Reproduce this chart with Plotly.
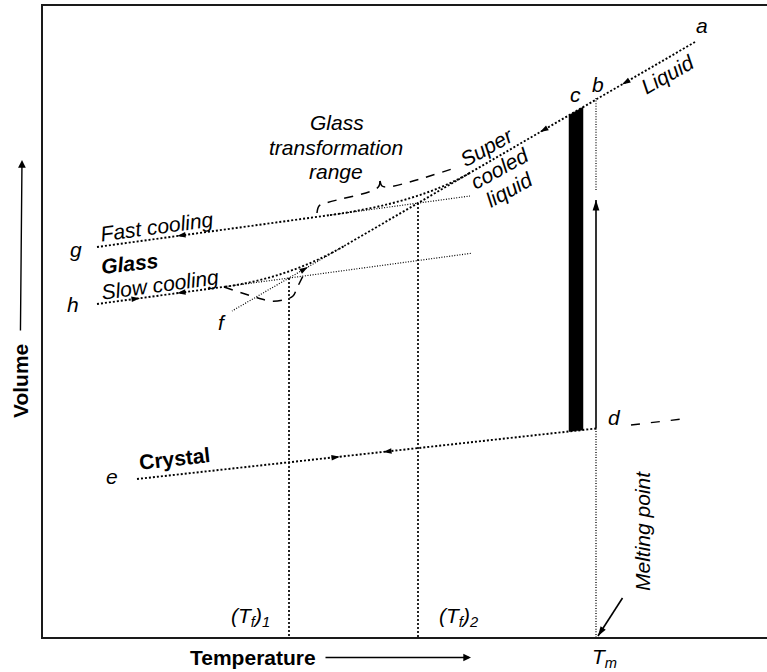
import math
import plotly.graph_objects as go

# ---------------- data (schematic Temperature / Volume units) ----------------
# liquid -> supercooled liquid (a ... f), real part and extrapolation
liquid_T = [695, 345]
liquid_V = [42.0, 245.5]
supercooled_ext_T = [345, 232]
supercooled_ext_V = [245.5, 311.0]
# fast-cooled glass (g) and its extrapolation
fast_glass_T = [97, 330]
fast_glass_V = [247.0, 215.1]
fast_ext_T = [330, 470]
fast_ext_V = [215.1, 196.0]
fast_curve_T = [330, 418, 470]          # start, control, end of transition curve
fast_curve_V = [215.1, 203.0, 172.8]
# slow-cooled glass (h) and its extrapolation
slow_glass_T = [97, 225]
slow_glass_V = [304.0, 286.7]
slow_ext_T = [225, 472]
slow_ext_V = [286.7, 253.2]
slow_curve_T = [225, 289, 345]
slow_curve_V = [286.7, 278.0, 245.5]
# crystal (e ... d) and dashed extension
crystal_T = [137, 596]
crystal_V = [479.0, 428.5]
crystal_ext_T = [631, 684]
crystal_ext_V = [425.0, 418.8]
# volume jump at melting (black bar)
bar_T = [569, 583, 583, 569, 569]
bar_V = [115.2, 107.1, 430.0, 431.5, 115.2]
# melting point and fictive temperatures
Tm = 596
Tm_upper_V = [98, 190]
Tm_arrow_V = [428.5, 200]
Tm_lower_V = [428.5, 637]
Tf_T = [289, 418]
Tf_V = [278, 203]
# pointer to the melting point
pointer_T = [622.5, 598]
pointer_V = [598, 636]
# glass transformation range brackets
range_fast_left_T = [317, 319, 326, 374, 379, 380]
range_fast_left_V = [213, 206, 203, 190, 186, 181]
range_fast_right_T = [380, 382, 388, 455]
range_fast_right_V = [181, 186, 187, 168]
range_slow_T = [224, 258, 270, 283, 293, 297, 304]
range_slow_V = [287, 298, 301, 300, 296, 288, 274]
# direction arrows on the curves
arrow_T = [622, 540, 177, 177, 140, 308, 340, 383]
arrow_V = [84.4, 132.1, 236.0, 293.2, 298.2, 267.0, 456.7, 451.9]
arrow_slope = [-0.5813, -0.5813, -0.137, -0.1354, -0.1354, -0.5813, -0.11, -0.11]
arrow_sign = [-1, -1, -1, -1, 1, 1, 1, -1]

# ---------------- figure ----------------
FONT = "Liberation Sans, Arial, Helvetica, sans-serif"
BLACK = "#000000"
fig = go.Figure()


def line(xs, ys, width=1.8, dash="2px,2px", shape="linear"):
    fig.add_trace(go.Scatter(x=xs, y=ys, mode="lines", hoverinfo="skip", showlegend=False,
                             line=dict(color=BLACK, width=width, dash=dash, shape=shape)))


def arrow_line(xs, ys, width, size, dash="solid"):
    fig.add_trace(go.Scatter(x=xs, y=ys, mode="lines", hoverinfo="skip", showlegend=False,
                             line=dict(color=BLACK, width=width, dash=dash)))
    fig.add_trace(go.Scatter(x=xs, y=ys, mode="markers", hoverinfo="skip", showlegend=False,
                             marker=dict(symbol="arrow", size=size, angleref="previous",
                                         color=BLACK, line=dict(width=0))))


COARSE = "2px,2px"
FINE = "1px,1.6px"

line(liquid_T, liquid_V, 1.9, COARSE)
line(supercooled_ext_T, supercooled_ext_V, 1.2, FINE)
line(fast_glass_T, fast_glass_V, 1.9, COARSE)
line(fast_ext_T, fast_ext_V, 1.2, FINE)
line(slow_glass_T, slow_glass_V, 1.9, COARSE)
line(slow_ext_T, slow_ext_V, 1.2, FINE)
line(crystal_T, crystal_V, 1.9, COARSE)
line(crystal_ext_T, crystal_ext_V, 1.4, "9px,11px")
line(range_fast_left_T, range_fast_left_V, 1.5, "9px,8px", "spline")
line(range_fast_right_T, range_fast_right_V, 1.5, "9px,8px", "spline")
line(range_slow_T, range_slow_V, 1.5, "9px,8px", "spline")
line([Tm, Tm], Tm_upper_V, 1.2, FINE)
line([Tm, Tm], Tm_lower_V, 1.3, FINE)
for t, v in zip(Tf_T, Tf_V):
    line([t, t], [v, 637], 1.7, COARSE)

fig.add_trace(go.Scatter(x=bar_T, y=bar_V, mode="lines", fill="toself", fillcolor=BLACK,
                         line=dict(color=BLACK, width=0.5), hoverinfo="skip", showlegend=False))

shapes = []
for cT, cV in ((fast_curve_T, fast_curve_V), (slow_curve_T, slow_curve_V)):
    shapes.append(dict(type="path", xref="x", yref="y",
                       path=f"M {cT[0]},{cV[0]} Q {cT[1]},{cV[1]} {cT[2]},{cV[2]}",
                       line=dict(color=BLACK, width=1.9, dash=COARSE)))

# arrowheads along curves
for t, v, s, sg in zip(arrow_T, arrow_V, arrow_slope, arrow_sign):
    n = math.hypot(1, s)
    L = 6
    fig.add_trace(go.Scatter(x=[t - sg * L / n, t], y=[v - sg * L * s / n, v], mode="markers",
                             hoverinfo="skip", showlegend=False,
                             marker=dict(symbol="arrow", size=9, angleref="previous",
                                         color=BLACK, line=dict(width=0))))

# melting arrow (solid, upward) and melting point pointer
arrow_line([Tm, Tm], Tm_arrow_V, 1.6, 11)
arrow_line(pointer_T, pointer_V, 1.6, 10)

annotations = []


def xp(x):
    return (x - 43) / 724


def yp(y):
    return (637 - y) / 631


def txt(text, x, y, angle=0, italic=True, size=21, ref="x", **kw):
    d = dict(text=text, x=x, y=y, showarrow=False, textangle=angle,
             xanchor="center", yanchor="middle",
             font=dict(family=FONT, size=size, color=BLACK,
                       style="italic" if italic else "normal"))
    if ref == "x":
        d.update(xref="x", yref="y")
    else:
        d.update(xref="paper", yref="paper", x=xp(x), y=yp(y))
    d.update(kw)
    annotations.append(d)


# point letters
for s, x, y in [("a", 702, 25.7), ("b", 598, 84.7), ("c", 575, 94.7), ("d", 614, 417.7),
                ("e", 112, 476.7), ("f", 222, 322.7), ("g", 76, 249), ("h", 73, 304.7)]:
    txt(s, x, y)

txt("Liquid", 667, 74, -29.6)
txt("Super", 486, 147, -29)
txt("cooled", 499, 168, -29)
txt("liquid", 509, 189, -29)
txt("Glass", 336.5, 122.7)
txt("transformation", 336, 147.7)
txt("range", 336, 171.7)
txt("Fast cooling", 157, 226, -7.6)
txt("<b>Glass</b>", 129, 263, -6)
txt("Slow cooling", 160, 284, -7.7)
txt("<b>Crystal</b>", 174, 458, -6.3, italic=False)
txt("Melting point", 642, 531, -90)
txt("(T<sub>f</sub>)<sub>1</sub>", 250, 617)
txt("(T<sub>f</sub>)<sub>2</sub>", 458, 617)
txt("T<sub>m</sub>", 604, 658, ref="paper")

# axis titles carrying their arrows (arrow starts at the text box edge)
annotations.append(dict(text="<b>Temperature</b>", x=xp(471), y=yp(657.5), xref="paper", yref="paper",
                        ax=253 - 471, ay=0, showarrow=True, arrowhead=2, arrowsize=1.1,
                        arrowwidth=1.4, arrowcolor=BLACK, startstandoff=8,
                        font=dict(family=FONT, size=21, color=BLACK)))
annotations.append(dict(text="<b>Volume</b>", x=xp(22), y=yp(160), xref="paper", yref="paper",
                        ax=20 - 22, ay=381 - 160, textangle=-90, showarrow=True, arrowhead=2,
                        arrowsize=1.1, arrowwidth=1.4, arrowcolor=BLACK, startstandoff=12,
                        font=dict(family=FONT, size=21, color=BLACK)))

fig.update_layout(
    width=767, height=672,
    margin=dict(l=43, r=0, t=6, b=35),
    paper_bgcolor="white", plot_bgcolor="white",
    hovermode=False,
    shapes=shapes, annotations=annotations,
    xaxis=dict(range=[43, 767], showline=True, linecolor="#1a1a1a", linewidth=2, mirror=True,
               showgrid=False, zeroline=False, showticklabels=False, ticks=""),
    yaxis=dict(range=[637, 6], showline=True, linecolor="#1a1a1a", linewidth=2, mirror=False,
               showgrid=False, zeroline=False, showticklabels=False, ticks=""),
)

fig.write_html("out.html")
